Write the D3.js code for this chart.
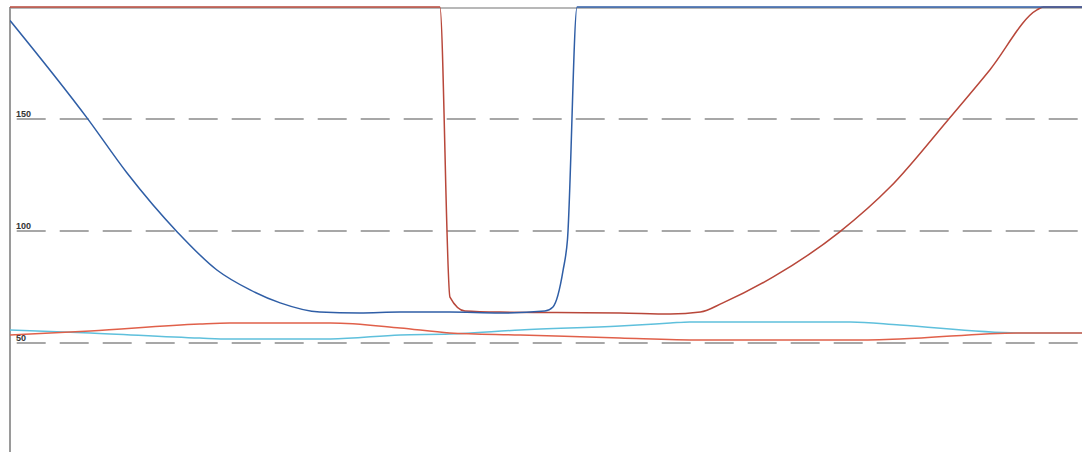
<!DOCTYPE html>
<html>
<head>
<meta charset="UTF-8">
<script src="https://d3js.org/d3.v7.min.js"></script>
<style>
  body { margin: 0; background: #fff; }
  svg { display: block; }
</style>
</head>
<body>
<svg id="canvas"></svg>
<script>
// values; x is a 0..100 position along the run
const ticks = [50, 100, 150];

const darkBlue = [
  [0, 194], [7.2, 150.4], [10.9, 126], [15.6, 99.6], [19.3, 82.6], [22.4, 73.7],
  [25.2, 67.9], [28.9, 63.8], [32.6, 63.4], [36.4, 63.8], [41, 63.8], [45.7, 63.4],
  [49.9, 64.3], [50.65, 66.1], [51.6, 82.6], [52, 96], [52.9, 200], [100, 200]
];
const darkRed = [
  [0, 200], [40.1, 200], [41.04, 70.5], [42.44, 64.3], [45.7, 63.8], [51, 63.6],
  [56.9, 63.4], [61.6, 62.9], [64.4, 63.8], [66.5, 67.9], [71.2, 79.5], [77.4, 99.6],
  [82.1, 119.6], [87.5, 149.6], [91.4, 171.9], [95.8, 198.7], [96.4, 200], [100, 200]
];
const orangeRed = [
  [0, 53.6], [7.5, 55.4], [17.7, 58.5], [20.5, 58.9], [29.9, 58.9], [36.4, 56.7],
  [41, 54.5], [47.6, 53.6], [56.9, 52.2], [64.4, 51.3], [78.4, 51.3], [83, 51.8],
  [94.2, 54.5], [100, 54.5]
];
const lightBlue = [
  [0, 55.8], [7.5, 54.5], [17.7, 52.2], [20.5, 51.8], [29.9, 51.8], [36.4, 53.6],
  [41, 54], [47.6, 55.8], [56.9, 57.6], [61.6, 58.9], [63.4, 59.4], [78.4, 59.4],
  [83, 58], [94.2, 54.5], [100, 54.5]
];

const width = 1082, height = 452;
const svg = d3.select("#canvas").attr("width", width).attr("height", height);

const x = d3.scaleLinear().domain([0, 100]).range([10, 1082]);
const y = d3.scaleLinear().domain([0, 200]).range([455, 7]);

svg.append("defs").append("clipPath").attr("id", "plot")
  .append("rect").attr("x", 10).attr("y", 6).attr("width", 1072).attr("height", 450);

// gridlines
svg.append("g").selectAll("line").data(ticks).join("line")
  .attr("x1", 10).attr("x2", width)
  .attr("y1", d => y(d)).attr("y2", d => y(d))
  .attr("stroke", "#8a8a8a").attr("stroke-width", 1.5)
  .attr("stroke-dasharray", "29 14").attr("stroke-dashoffset", 36.3);

// frame
svg.append("line").attr("x1", 10).attr("x2", width).attr("y1", y(200) + 1).attr("y2", y(200) + 1)
  .attr("stroke", "#a0a0a0").attr("stroke-width", 1.5);
svg.append("line").attr("x1", 10).attr("x2", 10).attr("y1", y(200)).attr("y2", height)
  .attr("stroke", "#9a9a9a").attr("stroke-width", 2);

// tick labels
svg.append("g").selectAll("text").data(ticks).join("text")
  .attr("x", 16).attr("y", d => y(d) - 2)
  .attr("font-family", "Liberation Sans, Arial, sans-serif")
  .attr("font-size", 9).attr("font-weight", "bold").attr("fill", "#333")
  .text(d => d);

const line = d3.line().x(d => x(d[0])).y(d => y(d[1])).curve(d3.curveMonotoneX);

const series = [
  { data: lightBlue, color: "#5fc0dc" },
  { data: orangeRed, color: "#e0604a" },
  { data: darkRed, color: "#b8473a" },
  { data: darkBlue, color: "#2f5ea6" }
];

svg.append("g").attr("clip-path", "url(#plot)").selectAll("path").data(series).join("path")
  .attr("d", d => line(d.data))
  .attr("fill", "none")
  .attr("stroke", d => d.color)
  .attr("stroke-width", 1.5);
</script>
</body>
</html>
